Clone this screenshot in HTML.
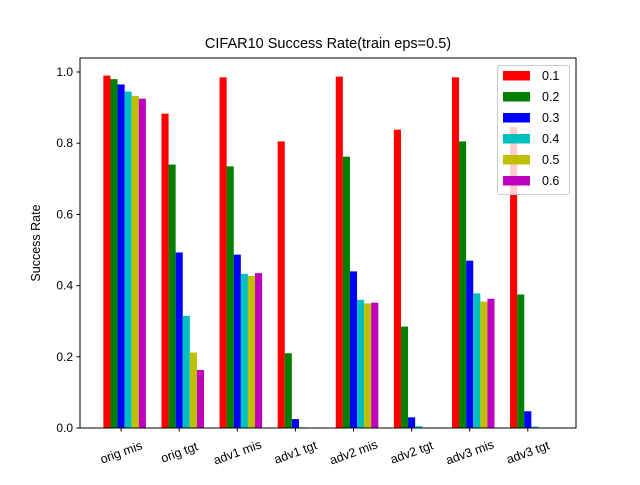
<!DOCTYPE html>
<html><head><meta charset="utf-8"><style>
body{margin:0;background:#fff}
svg text{font-family:"Liberation Sans","DejaVu Sans",sans-serif;fill:#000}
</style></head><body>
<svg id="c" width="640" height="480"></svg>
<script>
const categories=["orig mis","orig tgt","adv1 mis","adv1 tgt","adv2 mis","adv2 tgt","adv3 mis","adv3 tgt"];
const seriesNames=["0.1","0.2","0.3","0.4","0.5","0.6"];
const colors=["#ff0000","#008000","#0000ff","#00bfbf","#bfbf00","#bf00bf"];
const s01=[0.99,0.883,0.985,0.805,0.987,0.838,0.985,0.845];
const s02=[0.98,0.74,0.735,0.21,0.762,0.285,0.805,0.375];
const s03=[0.965,0.493,0.487,0.025,0.44,0.03,0.47,0.047];
const s04=[0.945,0.315,0.433,0.002,0.36,0.005,0.378,0.004];
const s05=[0.933,0.212,0.427,0,0.35,0,0.355,0];
const s06=[0.925,0.163,0.435,0,0.352,0,0.363,0];
const series=[s01,s02,s03,s04,s05,s06];
const yTicks=[0,0.2,0.4,0.6,0.8,1.0];
const yTickLabels=["0.0","0.2","0.4","0.6","0.8","1.0"];
const NS="http://www.w3.org/2000/svg";
const svg=document.getElementById('c');
function mk(t,a,p){const e=document.createElementNS(NS,t);for(const k in a)e.setAttribute(k,a[k]);(p||svg).appendChild(e);return e;}
const L=80,R=576,T=58,B=428;
const bw=0.122;
const pxPerUnit=58.1;
function xs(v){return 121.1+v*pxPerUnit;}
function ys(v){return B-v*(428-72);}
series.forEach((s,i)=>{s.forEach((v,g)=>{
 const cx=g+(i-2)*bw;
 const r=mk('rect',{x:xs(cx-bw/2),y:ys(v),width:xs(cx+bw/2)-xs(cx-bw/2),height:B-ys(v),fill:colors[i]});
 
 
});});
const f=mk('rect',{x:L,y:T,width:R-L,height:B-T,fill:'none',stroke:'#000','stroke-width':1});

yTicks.forEach((v,i)=>{const y=ys(v);
 mk('line',{x1:L-3.5,x2:L,y1:y,y2:y,stroke:'#000'});
 const t=mk('text',{x:L-7,y:y+4,'text-anchor':'end','font-size':'12'});t.textContent=yTickLabels[i];
 
});
categories.forEach((c,g)=>{const x=xs(g);
 mk('line',{x1:x,x2:x,y1:B,y2:B+3.5,stroke:'#000'});
 const cy=452;
 const t=mk('text',{x:x,y:cy+4.5,'text-anchor':'middle','font-size':'12.5',transform:`rotate(-20 ${x} ${cy})`});t.textContent=c;
 
});
const ti=mk('text',{x:(L+R)/2,y:48,'text-anchor':'middle','font-size':'14.5'});ti.textContent="CIFAR10 Success Rate(train eps=0.5)";

const yl=mk('text',{x:40,y:243,'text-anchor':'middle','font-size':'12.5',transform:'rotate(-90 40 243)'});yl.textContent="Success Rate";

const lg=mk('g',{});
mk('rect',{x:497.5,y:65.5,width:72,height:129,rx:2,fill:'#fff','fill-opacity':0.8,stroke:'#ccc'},lg);
seriesNames.forEach((n,i)=>{const y=75.5+i*21;
 const e=mk('g',{},lg);
 mk('rect',{x:503,y:y-4.5,width:27,height:9.5,fill:colors[i]},e);
 const t=mk('text',{x:542,y:y+4.5,'font-size':'12.5'},e);t.textContent=n;
});
</script>
</body></html>
